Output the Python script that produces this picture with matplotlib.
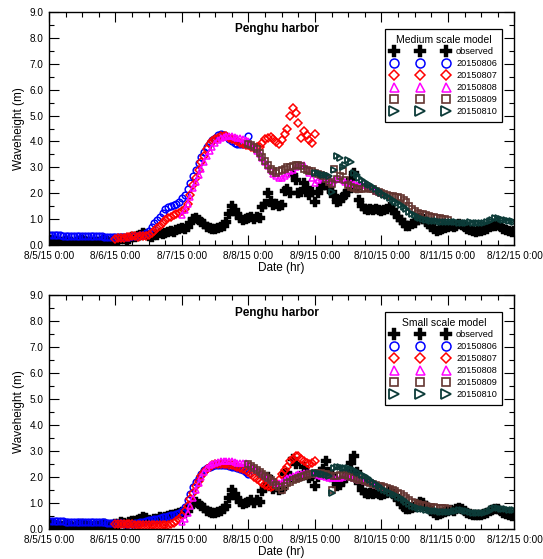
import numpy as np
import matplotlib.pyplot as plt
from matplotlib.ticker import MultipleLocator

plt.rcParams['font.family'] = ['Liberation Sans', 'DejaVu Sans']

# hourly samples, hours counted from 8/5/15 0:00
step = 1
day_labels = ['8/5/15 0:00', '8/6/15 0:00', '8/7/15 0:00', '8/8/15 0:00',
              '8/9/15 0:00', '8/10/15 0:00', '8/11/15 0:00', '8/12/15 0:00']
run_names = ['20150806', '20150807', '20150808', '20150809', '20150810']
run_start = [0, 24, 48, 72, 96]   # forecast start hour of each run

observed = [
    0.20, 0.18, 0.15, 0.12, 0.10, 0.12, 0.15, 0.12, 0.10, 0.08, 0.10, 0.14,
    0.18, 0.15, 0.12, 0.10, 0.08, 0.10, 0.12, 0.15, 0.18, 0.15, 0.12, 0.14,
    0.18, 0.20, 0.25, 0.22, 0.20, 0.25, 0.30, 0.32, 0.35, 0.40, 0.45, 0.42,
    0.35, 0.32, 0.38, 0.40, 0.45, 0.42, 0.48, 0.50, 0.55, 0.52, 0.58, 0.60,
    0.65, 0.62, 0.70, 0.85, 1.00, 1.05, 0.95, 0.90, 0.80, 0.70, 0.65, 0.60,
    0.62, 0.65, 0.70, 0.75, 0.90, 1.20, 1.50, 1.35, 1.20, 1.05, 0.95, 1.00,
    1.05, 1.10, 1.00, 1.10, 1.05, 1.45, 1.60, 2.00, 1.70, 1.55, 1.60, 1.50,
    1.55, 2.10, 2.15, 2.00, 2.70, 2.50, 2.00, 2.05, 2.40, 2.20, 1.95, 2.05,
    1.65, 2.00, 2.20, 2.30, 2.60, 2.20, 2.05, 1.90, 1.65, 1.70, 1.85, 1.95,
    2.10, 2.55, 2.80, 2.20, 1.75, 1.50, 1.40, 1.35, 1.40, 1.35, 1.40, 1.35,
    1.30, 1.35, 1.40, 1.45, 1.35, 1.25, 1.10, 0.95, 0.85, 0.75, 0.75, 0.80,
    0.85, 0.95, 1.05, 1.00, 0.90, 0.80, 0.70, 0.60, 0.55, 0.58, 0.60, 0.65,
    0.70, 0.72, 0.70, 0.75, 0.80, 0.78, 0.70, 0.62, 0.58, 0.55, 0.52, 0.55,
    0.55, 0.58, 0.62, 0.68, 0.72, 0.75, 0.78, 0.70, 0.62, 0.58, 0.55, 0.50,
    0.55]

# medium scale model runs
med_0806 = [
    0.38, 0.38, 0.37, 0.37, 0.37, 0.36, 0.36, 0.36, 0.35, 0.35, 0.35, 0.35,
    0.34, 0.34, 0.34, 0.34, 0.33, 0.33, 0.33, 0.33, 0.32, 0.32, 0.32, 0.32,
    0.31, 0.31, 0.31, 0.31, 0.32, 0.32, 0.33, 0.34, 0.35, 0.37, 0.40, 0.46,
    0.55, 0.68, 0.85, 0.98, 1.10, 1.25, 1.40, 1.47, 1.50, 1.53, 1.60, 1.68,
    1.80, 1.95, 2.15, 2.40, 2.65, 2.90, 3.15, 3.40, 3.60, 3.80, 3.95, 4.05,
    4.15, 4.25, 4.30, 4.25, 4.20, 4.10, 4.00, 3.95, 3.90, 3.90, 3.90, 3.92,
    4.20]
med_0807 = [
    0.25, 0.26, 0.27, 0.28, 0.30, 0.31, 0.33, 0.33, 0.32, 0.33, 0.34, 0.36,
    0.40, 0.47, 0.55, 0.65, 0.75, 0.85, 0.95, 1.03, 1.10, 1.15, 1.20, 1.25,
    1.30, 1.40, 1.60, 1.95, 2.30, 2.60, 2.90, 3.20, 3.45, 3.70, 3.90, 4.00,
    4.10, 4.15, 4.20, 4.22, 4.20, 4.15, 4.10, 4.05, 4.00, 3.95, 3.90, 3.88,
    3.85, 3.80, 3.75, 3.78, 3.80, 3.95, 4.10, 4.15, 4.17, 4.10, 3.97, 3.90,
    4.05, 4.30, 4.50, 5.00, 5.30, 5.10, 4.70, 4.15, 4.40, 4.25, 4.05, 3.95,
    4.30]
med_0808 = [
    1.15, 1.35, 1.60, 1.85, 2.20, 2.45, 2.70, 2.95, 3.20, 3.45, 3.65, 3.80,
    3.95, 4.05, 4.12, 4.18, 4.22, 4.22, 4.20, 4.18, 4.15, 4.12, 4.10, 4.05,
    4.00, 3.90, 3.80, 3.65, 3.50, 3.35, 3.20, 3.05, 2.90, 2.75, 2.65, 2.60,
    2.60, 2.65, 2.75, 2.85, 2.90, 3.00, 3.05, 3.10, 3.10, 2.95, 2.80, 2.60,
    2.40, 2.50, 2.60, 2.62, 2.60, 2.50, 2.40, 2.50, 2.60, 2.55, 2.50, 2.45,
    2.40, 2.38, 2.35, 2.32, 2.30, 2.30, 2.30, 2.25, 2.20, 2.15, 2.10, 2.05,
    2.00]
med_0809 = [
    3.90, 3.85, 3.80, 3.70, 3.55, 3.40, 3.25, 3.10, 2.95, 2.85, 2.80, 2.85,
    2.90, 2.95, 3.00, 3.02, 3.05, 3.08, 3.10, 3.05, 2.95, 2.90, 2.85, 2.85,
    2.80, 2.75, 2.70, 2.65, 2.55, 2.45, 2.35, 2.95, 2.55, 2.65, 2.85, 2.50,
    2.30, 2.25, 2.20, 2.18, 2.15, 2.15, 2.20, 2.22, 2.18, 2.15, 2.10, 2.05,
    2.00, 1.98, 1.95, 1.90, 1.88, 1.85, 1.85, 1.82, 1.75, 1.65, 1.50, 1.40,
    1.30, 1.25, 1.20, 1.18, 1.15, 1.12, 1.10, 1.08, 1.05, 1.03, 1.02, 1.00,
    0.98]
med_0810 = [
    2.80, 2.78, 2.75, 2.72, 2.70, 2.65, 2.05, 2.90, 3.45, 3.35, 3.00, 3.10,
    3.30, 3.20, 2.80, 2.70, 2.60, 2.50, 2.42, 2.35, 2.30, 2.25, 2.18, 2.10,
    2.00, 1.95, 1.90, 1.82, 1.75, 1.68, 1.62, 1.55, 1.48, 1.38, 1.28, 1.20,
    1.15, 1.10, 1.05, 1.00, 0.97, 0.95, 0.93, 0.92, 0.91, 0.90, 0.90, 0.90,
    0.90, 0.89, 0.88, 0.87, 0.86, 0.85, 0.85, 0.86, 0.87, 0.86, 0.85, 0.85,
    0.85, 0.86, 0.88, 0.92, 0.97, 1.03, 1.05, 1.02, 0.98, 0.96, 0.94, 0.92,
    0.90]

# small scale model runs
sml_0806 = [
    0.30, 0.30, 0.30, 0.29, 0.29, 0.29, 0.28, 0.28, 0.28, 0.28, 0.27, 0.27,
    0.27, 0.27, 0.26, 0.26, 0.26, 0.25, 0.25, 0.25, 0.25, 0.24, 0.24, 0.24,
    0.24, 0.23, 0.22, 0.21, 0.20, 0.20, 0.21, 0.22, 0.24, 0.26, 0.28, 0.30,
    0.33, 0.36, 0.38, 0.40, 0.43, 0.45, 0.48, 0.50, 0.53, 0.55, 0.58, 0.62,
    0.68, 0.85, 1.10, 1.35, 1.60, 1.80, 1.95, 2.10, 2.25, 2.33, 2.40, 2.43,
    2.45, 2.46, 2.46, 2.45, 2.45, 2.43, 2.40, 2.38, 2.35, 2.30, 2.25, 2.18,
    2.10]
sml_0807 = [
    0.20, 0.20, 0.20, 0.19, 0.18, 0.18, 0.18, 0.17, 0.17, 0.17, 0.17, 0.16,
    0.15, 0.15, 0.15, 0.14, 0.14, 0.14, 0.15, 0.16, 0.18, 0.22, 0.30, 0.38,
    0.50, 0.70, 0.90, 1.15, 1.40, 1.65, 1.85, 2.05, 2.20, 2.30, 2.40, 2.45,
    2.50, 2.50, 2.50, 2.50, 2.50, 2.48, 2.45, 2.42, 2.40, 2.35, 2.30, 2.25,
    2.20, 2.10, 2.00, 1.92, 1.85, 1.78, 1.70, 1.65, 1.60, 1.65, 1.75, 1.90,
    2.10, 2.25, 2.40, 2.60, 2.70, 2.80, 2.80, 2.70, 2.60, 2.55, 2.50, 2.52,
    2.60]
sml_0808 = [
    0.25, 0.40, 0.60, 0.90, 1.20, 1.50, 1.75, 2.00, 2.20, 2.35, 2.45, 2.50,
    2.55, 2.58, 2.60, 2.60, 2.60, 2.60, 2.60, 2.58, 2.55, 2.55, 2.55, 2.52,
    2.50, 2.42, 2.35, 2.28, 2.20, 2.12, 2.05, 1.98, 1.90, 1.82, 1.75, 1.75,
    1.80, 1.88, 1.95, 2.00, 2.05, 2.08, 2.10, 2.12, 2.15, 2.15, 2.15, 2.12,
    2.10, 2.08, 2.05, 2.02, 2.00, 1.98, 1.95, 1.95, 1.95, 1.98, 2.00, 2.02,
    2.05, 2.00, 1.95, 1.92, 1.90, 1.88, 1.85, 1.82, 1.80, 1.75, 1.70, 1.65,
    1.60]
sml_0809 = [
    2.50, 2.42, 2.35, 2.28, 2.20, 2.12, 2.05, 1.98, 1.90, 1.80, 1.70, 1.60,
    1.50, 1.65, 1.75, 1.82, 1.88, 1.92, 1.96, 2.00, 2.04, 2.08, 2.10, 2.12,
    2.14, 2.15, 2.15, 2.12, 2.10, 2.08, 1.50, 2.05, 2.05, 2.08, 2.10, 2.08,
    2.05, 2.00, 1.97, 1.94, 1.90, 1.87, 1.84, 1.80, 1.77, 1.73, 1.70, 1.67,
    1.65, 1.60, 1.56, 1.52, 1.50, 1.45, 1.40, 1.35, 1.28, 1.20, 1.10, 1.05,
    1.00, 0.97, 0.94, 0.91, 0.88, 0.86, 0.84, 0.83, 0.82, 0.81, 0.80, 0.79,
    0.78]
sml_0810 = [
    2.15, 2.14, 2.12, 2.10, 2.08, 2.05, 1.40, 2.35, 2.40, 2.38, 2.36, 2.34,
    2.33, 2.30, 2.26, 2.20, 2.14, 2.08, 2.02, 1.95, 1.88, 1.80, 1.72, 1.65,
    1.58, 1.50, 1.45, 1.40, 1.35, 1.30, 1.24, 1.18, 1.10, 1.02, 0.95, 0.90,
    0.86, 0.82, 0.78, 0.75, 0.73, 0.72, 0.70, 0.69, 0.68, 0.67, 0.67, 0.67,
    0.67, 0.67, 0.68, 0.70, 0.72, 0.72, 0.70, 0.68, 0.65, 0.63, 0.62, 0.61,
    0.60, 0.62, 0.65, 0.70, 0.75, 0.80, 0.80, 0.78, 0.76, 0.75, 0.74, 0.73,
    0.72]

# marker style per run
styles = [
    dict(marker='o', color='#0000ff', ms=4.8, mew=1.1),
    dict(marker='D', color='#ff0000', ms=3.6, mew=1.1),
    dict(marker='^', color='#ff00ff', ms=4.8, mew=1.1),
    dict(marker='s', color='#633530', ms=4.6, mew=1.2),
    dict(marker='>', color='#0c3b38', ms=5.0, mew=1.3),
]


def draw_panel(ax, runs, model_name):
    t_obs = np.arange(len(observed)) * step
    ax.plot(t_obs, observed, ls='none', marker='P', ms=6.5, color='black',
            mec='black', mew=0.3, label='observed')
    for vals, start, name, st in zip(runs, run_start, run_names, styles):
        t = start + np.arange(len(vals)) * step
        ax.plot(t, vals, ls='none', marker=st['marker'], ms=st['ms'],
                mfc='none', mec=st['color'], mew=st['mew'], label=name)

    ax.set_xlim(0, 168)
    ax.set_ylim(0, 9)
    ax.set_xticks(np.arange(0, 169, 24))
    ax.set_xticklabels(day_labels)
    ax.xaxis.set_minor_locator(MultipleLocator(6))
    ax.yaxis.set_major_locator(MultipleLocator(1))
    ax.yaxis.set_minor_locator(MultipleLocator(0.5))
    ax.yaxis.set_major_formatter(plt.FormatStrFormatter('%.1f'))
    ax.tick_params(which='both', direction='in', top=True, right=True,
                   labelsize=7.2, width=0.8, color='black')
    ax.tick_params(which='major', length=7, pad=4)
    ax.tick_params(which='minor', length=3.5)
    for sp in ax.spines.values():
        sp.set_linewidth(1.0)
    ax.set_xlabel('Date (hr)', fontsize=8.5, labelpad=1)
    ax.set_ylabel('Waveheight (m)', fontsize=8.5, labelpad=3)
    ax.text(0.49, 0.925, 'Penghu harbor', transform=ax.transAxes,
            ha='center', va='center', fontsize=8.5, fontweight='bold')

    leg = ax.legend(title=model_name, loc='upper right',
                    bbox_to_anchor=(0.974, 0.927), borderaxespad=0,
                    numpoints=3, handlelength=6.3, handletextpad=0.8,
                    borderpad=0.6, labelspacing=0.32, fontsize=6.6,
                    title_fontsize=7.5, markerscale=1.35, fancybox=False,
                    edgecolor='black', framealpha=1)
    leg.get_frame().set_linewidth(0.9)


fig = plt.figure(figsize=(5.43, 5.59), dpi=100)
ax1 = fig.add_axes([0.0902, 0.5617, 0.8573, 0.4168])
ax2 = fig.add_axes([0.0902, 0.0537, 0.8573, 0.4186])

draw_panel(ax1, [med_0806, med_0807, med_0808, med_0809, med_0810], 'Medium scale model')
draw_panel(ax2, [sml_0806, sml_0807, sml_0808, sml_0809, sml_0810], 'Small scale model')

fig.savefig('out.png', dpi=100)
